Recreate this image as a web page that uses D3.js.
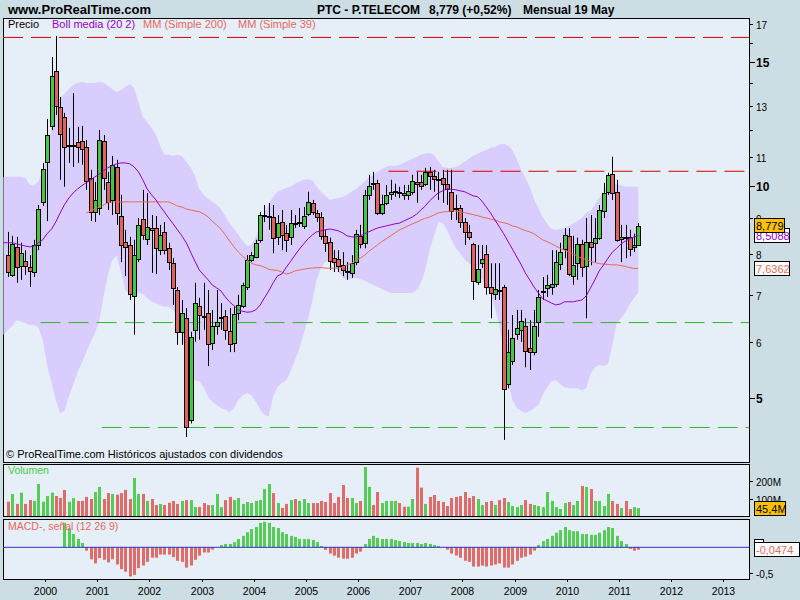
<!DOCTYPE html>
<html><head><meta charset="utf-8">
<script src="https://cdn.jsdelivr.net/npm/d3@7"></script>
<style>
body{margin:0;background:#cddde4;}
svg{display:block;font-family:"Liberation Sans",Arial,sans-serif;}
</style></head><body>
<svg id="c" width="800" height="600"></svg>
<script>
// ---------------- DATA ----------------
// Monthly candles Apr 1999 .. May 2011
const candleStart = [1999, 3];
const openV = [7.98,7.48,8.20,7.70,7.82,7.67,7.55,8.25,9.50,
10.83,12.18,14.57,12.96,12.54,11.39,11.41,11.56,11.59,11.37,10.28,9.19,
9.31,11.59,10.14,9.56,10.65,9.07,8.34,8.25,6.98,7.87,8.98,8.42,
8.72,8.72,8.11,8.61,8.16,7.77,7.12,6.21,6.49,4.65,6.25,6.76,
6.53,6.60,5.99,6.33,6.49,6.53,6.23,5.99,6.60,6.76,7.19,7.85,
7.95,8.39,9.07,9.06,9.04,8.45,8.89,8.58,8.45,8.86,8.86,8.78,
9.13,9.47,9.16,9.04,8.50,8.34,7.90,7.87,7.72,7.58,7.53,7.80,
8.50,8.31,9.72,10.11,10.11,9.16,9.47,9.75,9.82,9.82,9.78,9.72,
9.82,10.14,10.14,10.08,10.48,10.35,10.24,10.28,10.08,9.82,9.31,9.31,
8.89,8.61,8.28,7.31,7.77,8.00,7.19,7.03,7.12,7.19,5.23,5.64,
6.17,6.25,6.33,5.89,5.81,6.41,7.09,7.17,7.19,7.26,7.75,8.14,
8.50,7.45,7.77,8.28,7.72,8.34,8.31,8.45,9.22,9.82,10.41,9.82,
8.42,8.47,8.47,8.20,8.25];
const highV = [8.61,8.50,8.47,8.31,8.11,7.98,8.39,9.40,10.79,
12.46,15.26,16.34,13.39,12.71,12.10,13.56,12.14,12.18,11.63,10.55,10.14,
12.02,11.82,10.48,11.04,10.90,9.72,8.67,8.47,8.39,9.01,9.88,9.78,
9.10,9.07,8.81,8.89,8.31,7.90,7.19,6.89,6.71,6.21,7.29,6.94,
7.29,7.12,6.67,7.12,6.82,6.67,6.71,6.76,7.01,7.29,7.98,8.06,
8.39,9.19,9.40,9.46,9.40,9.10,9.25,8.81,9.25,9.10,9.31,9.34,
9.82,9.56,9.25,9.19,8.67,8.45,8.11,8.11,8.06,7.80,7.98,8.67,
8.81,9.88,10.38,10.48,10.21,9.72,10.04,10.21,10.08,9.98,10.04,10.04,
10.38,10.48,10.38,10.62,10.65,10.55,10.48,10.55,10.55,10.55,9.72,9.40,
9.01,8.81,8.31,8.25,8.25,8.25,7.77,7.77,7.77,7.24,6.25,6.56,
6.67,6.67,6.49,6.45,6.67,7.12,7.43,7.48,8.11,8.11,8.31,8.72,
8.72,8.50,8.45,8.39,9.01,9.10,9.01,9.40,10.11,10.45,11.01,10.21,
8.81,8.81,8.67,8.56,8.86];
const lowV = [7.43,7.43,7.29,7.36,7.48,7.19,7.43,8.11,9.37,
8.92,12.02,12.62,10.21,9.98,10.79,10.65,10.79,10.72,9.88,8.92,8.89,
9.10,9.88,9.25,9.10,8.81,7.80,7.45,6.89,6.15,7.80,8.39,8.25,
7.53,7.50,7.98,8.00,7.60,6.78,5.95,5.95,4.40,4.60,6.01,6.05,
6.25,5.55,5.85,6.15,6.25,6.05,5.81,5.81,6.45,6.71,7.12,7.80,
7.90,8.31,8.89,8.67,8.03,8.25,8.11,8.06,8.25,8.72,8.75,8.69,
9.07,9.10,8.89,8.39,8.06,7.60,7.55,7.55,7.45,7.36,7.41,7.72,
8.16,8.16,9.56,9.88,9.10,9.10,9.40,9.56,9.66,9.62,9.56,9.56,
9.72,9.47,9.88,10.01,9.88,9.82,9.56,9.47,9.40,8.95,8.95,8.72,
8.25,8.39,6.89,7.24,7.65,7.01,6.49,6.89,6.89,4.36,5.16,5.57,
6.05,6.01,5.53,5.48,5.75,6.11,6.89,6.96,7.01,7.19,7.60,7.90,
7.45,7.24,7.36,7.43,6.49,7.72,7.80,8.39,9.01,9.72,9.56,8.34,
7.80,7.90,7.95,8.06,8.22];
const closeV = [7.55,8.28,7.67,8.03,7.70,7.58,8.25,9.28,10.58,
11.83,14.34,13.00,11.87,11.37,11.43,11.45,11.37,11.30,10.18,9.19,9.56,
11.63,10.28,9.50,10.72,9.16,8.25,8.20,7.03,7.98,8.81,8.53,8.75,
8.67,8.16,8.53,8.11,7.80,7.17,6.21,6.60,4.54,6.11,6.82,6.56,
6.51,5.97,6.33,6.41,6.51,6.23,5.97,6.58,6.78,7.24,7.85,7.98,
8.31,9.10,9.10,9.08,8.45,8.86,8.53,8.39,8.86,8.83,8.89,9.07,
9.50,9.19,9.04,8.50,8.31,7.85,7.80,7.70,7.60,7.55,7.77,8.56,
8.28,9.72,10.01,10.08,9.16,9.44,9.72,9.82,9.85,9.78,9.72,9.85,
10.18,10.08,10.01,10.48,10.35,10.24,10.21,10.08,9.91,9.22,9.28,8.89,
8.61,8.47,7.34,7.63,7.87,7.19,7.05,7.14,7.10,5.15,5.81,6.09,
6.29,6.43,5.83,5.81,6.33,6.96,7.10,7.24,7.26,7.80,8.06,8.53,
7.50,7.72,8.28,7.67,8.34,8.20,8.45,9.25,9.78,10.38,9.78,8.39,
8.47,8.45,8.14,8.25,8.779];
// Volume (millions), Apr 1999 .. May 2011
const volumeM = [82,126,69,133,69,91,86,183,82,
114,133,114,103,149,82,103,86,86,109,97,137,
166,97,131,126,122,131,149,97,217,126,126,86,
97,63,69,63,76,86,69,86,91,91,51,51,
74,63,63,126,51,91,109,91,103,69,80,74,
86,91,154,183,131,74,46,69,91,97,86,97,
74,74,74,86,80,131,74,109,177,103,103,74,
86,280,166,63,137,74,86,86,86,74,53,53,
97,276,162,69,109,120,86,80,57,103,109,114,
137,103,114,97,63,80,86,63,91,103,80,57,
51,63,91,69,63,57,51,137,86,51,40,74,
80,63,86,171,166,154,86,86,57,126,86,69,
46,86,40,51,45.4];
// MACD histogram, May 2000 .. May 2011
const macdStart = [2000, 4];
const macdHist = [0.47,0.365,0.256,0.16,0.083,-0.064,-0.23,-0.31,
-0.21,-0.24,-0.29,-0.23,-0.33,-0.42,-0.47,-0.56,-0.53,-0.40,-0.35,-0.28,
-0.20,-0.20,-0.14,-0.14,-0.14,-0.19,-0.26,-0.28,-0.39,-0.35,-0.24,-0.16,
-0.10,-0.10,-0.045,0.0,0.045,0.064,0.064,0.10,0.16,0.22,0.29,0.35,
0.39,0.47,0.49,0.47,0.39,0.37,0.29,0.256,0.22,0.20,0.16,0.16,
0.16,0.14,0.10,0.026,-0.05,-0.12,-0.16,-0.20,-0.22,-0.22,-0.20,-0.12,
-0.083,0.064,0.16,0.22,0.18,0.16,0.16,0.16,0.14,0.12,
0.10,0.083,0.083,0.083,0.064,0.083,0.064,0.045,0.026,0.0,-0.045,-0.12,
-0.16,-0.20,-0.26,-0.28,-0.37,-0.37,-0.35,-0.37,-0.35,-0.33,-0.31,-0.39,
-0.39,-0.33,-0.26,-0.20,-0.18,-0.14,-0.064,0.045,0.12,0.16,0.22,0.28,
0.33,0.39,0.33,0.31,0.31,0.256,0.256,0.24,0.24,0.28,0.33,0.39,
0.37,0.22,0.12,0.064,-0.03,-0.064,-0.047];
// Bollinger (20,2), Mar 1999 .. May 2011
const bandStart = [1999, 2];
const bollUpper = [10.31,10.31,10.31,10.31,10.31,10.28,10.05,10.02,10.15,10.55,
11.26,12.10,12.91,13.35,13.52,13.74,13.92,14.01,14.06,14.01,14.01,14.01,
14.06,14.01,13.88,13.74,13.61,13.70,13.83,13.97,13.79,13.17,12.54,12.34,
12.10,11.83,11.41,11.08,11.08,11.04,11.08,11.04,10.83,10.62,10.35,9.91,
9.72,9.59,9.50,9.41,9.28,9.07,8.86,8.69,8.53,8.36,8.22,8.25,
8.47,8.78,9.16,9.44,9.66,9.82,9.88,9.95,9.98,10.08,10.15,10.21,
10.24,10.18,9.98,9.82,9.69,9.56,9.59,9.62,9.66,9.72,9.82,9.91,
10.02,10.15,10.28,10.38,10.48,10.58,10.65,10.69,10.69,10.72,10.79,10.87,
10.94,11.01,11.08,11.12,11.15,11.08,10.87,10.65,10.62,10.62,10.65,10.72,
10.83,10.94,11.04,11.12,11.19,11.26,11.34,11.37,11.45,11.49,11.41,11.26,
10.90,10.55,10.28,9.98,9.59,9.31,9.04,8.84,8.69,8.67,8.69,8.72,
8.78,8.86,8.92,9.01,9.16,9.22,9.41,9.62,9.85,10.08,10.11,10.05,
10.02,9.98,9.98,9.98,9.98];
const bollLower = [6.15,6.25,6.33,6.45,6.43,6.39,6.35,6.35,6.29,6.05,
5.57,5.25,4.97,4.76,4.79,5.02,5.22,5.44,5.62,5.81,6.01,6.19,
6.45,7.01,7.48,7.85,7.98,7.55,7.12,7.03,7.03,7.05,7.03,6.94,
6.85,6.82,6.78,6.74,6.74,6.67,6.49,6.15,5.76,5.48,5.30,5.28,
5.18,5.02,4.94,4.89,4.84,4.81,4.78,4.84,4.97,5.05,5.08,5.05,
4.94,4.81,4.73,4.71,5.03,5.18,5.25,5.30,5.46,5.66,5.89,6.17,
6.49,6.89,7.36,7.65,7.80,7.85,7.73,7.55,7.41,7.36,7.38,7.41,
7.38,7.34,7.29,7.24,7.19,7.14,7.10,7.05,7.05,7.05,7.05,7.05,
7.05,7.12,7.29,7.60,8.11,8.50,8.89,8.86,8.67,8.39,8.16,8.03,
7.87,7.77,7.67,7.53,7.38,7.21,7.01,6.71,6.33,5.85,5.27,4.97,
4.84,4.79,4.76,4.79,4.83,4.89,5.05,5.18,5.28,5.30,5.23,5.18,
5.16,5.16,5.16,5.13,5.16,5.41,5.53,5.57,5.55,5.59,5.95,6.39,
6.49,6.63,6.78,6.94,7.05];
const bollMid = [8.31,8.31,8.31,8.28,8.25,8.22,8.20,8.22,8.31,8.39,
8.56,8.69,8.89,9.16,9.41,9.62,9.78,9.91,10.02,10.11,10.21,10.31,
10.41,10.52,10.62,10.69,10.76,10.79,10.79,10.76,10.65,10.48,10.21,9.91,
9.72,9.56,9.37,9.19,9.01,8.84,8.67,8.50,8.31,8.06,7.82,7.60,
7.48,7.36,7.24,7.17,7.10,6.96,6.85,6.76,6.67,6.64,6.62,6.63,
6.67,6.78,6.94,7.10,7.29,7.46,7.50,7.67,7.82,7.98,8.14,8.28,
8.42,8.53,8.61,8.64,8.67,8.69,8.67,8.64,8.58,8.50,8.47,8.47,
8.50,8.56,8.61,8.67,8.72,8.75,8.78,8.81,8.84,8.86,8.92,8.98,
9.04,9.13,9.25,9.37,9.53,9.66,9.78,9.85,9.91,9.90,9.88,9.85,
9.82,9.75,9.69,9.66,9.53,9.34,9.16,8.95,8.75,8.56,8.34,8.14,
7.93,7.73,7.53,7.36,7.19,7.05,6.92,6.87,6.82,6.78,6.80,6.85,
6.85,6.85,6.87,6.89,6.98,7.17,7.36,7.58,7.73,7.90,8.06,8.16,
8.28,8.36,8.42,8.47,8.5088];
// MM (Simple 39), Oct 2000 .. May 2011
const maStart = [2000, 9];
const ma39 = [9.16,9.22,9.28,9.34,9.41,9.47,9.50,
9.50,9.50,9.50,9.50,9.50,9.50,9.50,9.50,9.50,9.50,9.50,9.50,9.50,
9.44,9.37,9.34,9.28,9.25,9.22,
9.20,9.13,9.04,8.92,8.81,8.69,8.53,8.36,8.20,8.06,7.95,7.85,7.77,7.73,7.71,7.67,
7.62,7.60,7.59,7.55,7.50,7.53,7.58,7.60,7.62,7.64,7.65,7.66,7.66,7.65,7.64,
7.65,7.65,7.67,7.73,7.77,7.85,7.90,7.98,8.08,8.16,8.25,8.34,8.42,8.50,8.58,8.67,
8.72,8.78,8.84,8.89,8.95,9.00,9.04,9.10,9.16,9.19,9.20,9.22,9.22,9.20,9.17,
9.14,9.11,9.08,9.04,9.01,8.98,8.95,8.90,8.87,8.84,8.78,8.75,8.69,8.65,8.61,
8.56,8.47,8.39,8.34,8.28,8.22,8.16,8.11,8.06,8.01,7.95,7.90,7.86,7.82,7.79,
7.76,7.75,7.74,7.73,7.73,7.71,7.69,7.66,7.64,7.6362];
// horizontal support/resistance levels
const redLevels = [{v:16.27, from:[1999,0]}, {v:10.50, from:[2006,7]}];
const greenLevels = [{v:6.40, from:[1999,11]}, {v:4.54, from:[2001,1]}];
// axis ticks
const priceTicks = [17,16,15,14,13,12,11,10,9,8,7,6,5];
const priceLabels = {17:"17",15:"15",13:"13",11:"11",10:"10",9:"9",8:"8",7:"7",6:"6",5:"5"};
const boldTicks = [15,10,5];
const yearTicks = [2000,2001,2002,2003,2004,2005,2006,2007,2008,2009,2010,2011,2012,2013];
const volTicks = [{v:200,t:"200M"},{v:100,t:"100M"}];
const macdTicks = [{v:-0.5,t:"-0,5"}];

// ---------------- CHART ----------------
const svg = d3.select("#c");
const C = {panel:"#e6eef8", band:"#d8cdfd", up:"#44c744", down:"#e0625c",
  vup:"#55cc55", vdown:"#e06b68", purple:"#9300c9", salmon:"#e46a5e"};
const PX0 = 3, PX1 = 749;
const MAIN = [18, 462], VOLP = [464, 516], MACDP = [519, 579];

const x = d3.scaleTime().domain([new Date(2000,0,1), new Date(2013,0,1)]).range([45, 723.4]);
const xm = d => x(d3.timeDay.offset(d, 15));
const y = d3.scaleLog().domain([5, 17]).range([398, 24]);
const yv = d3.scaleLinear().domain([0, 200]).range([516, 481]);
const ym = d3.scaleLinear().domain([0, -0.5]).range([547.3, 573.3]);

const monthsFrom = (s, n) => d3.range(n).map(i => new Date(s[0], s[1] + i, 1));
const cMonths = monthsFrom(candleStart, openV.length);
const candles = cMonths.map((d, i) => ({d, o:openV[i], h:highV[i], l:lowV[i], c:closeV[i], v:volumeM[i]}));
const bMonths = monthsFrom(bandStart, bollUpper.length);
const band = bMonths.map((d, i) => ({d, u:bollUpper[i], lo:bollLower[i], m:bollMid[i]}));
const maData = monthsFrom(maStart, ma39.length).map((d, i) => ({d, v:ma39[i]}));
const macdData = monthsFrom(macdStart, macdHist.length).map((d, i) => ({d, v:macdHist[i]}));

const defs = svg.append("defs");
defs.append("clipPath").attr("id","clipMain").append("rect")
  .attr("x",PX0).attr("y",MAIN[0]).attr("width",PX1-PX0).attr("height",MAIN[1]-MAIN[0]);

function panel(r){
  svg.append("rect").attr("x",PX0+0.5).attr("y",r[0]+0.5).attr("width",PX1-PX0)
    .attr("height",r[1]-r[0]).attr("fill",C.panel).attr("stroke","#000");
}
panel(MAIN); panel(VOLP); panel(MACDP);

// header
svg.append("text").attr("x",8).attr("y",14).attr("font-size",13).attr("font-weight","bold").text("www.ProRealTime.com");
svg.append("text").attr("x",317).attr("y",14).attr("font-size",12).attr("font-weight","bold").text("PTC - P.TELECOM");
svg.append("text").attr("x",429).attr("y",14).attr("font-size",12).attr("font-weight","bold").text("8,779 (+0,52%)");
svg.append("text").attr("x",523).attr("y",14).attr("font-size",12).attr("font-weight","bold").text("Mensual  19 May");

const gMain = svg.append("g").attr("clip-path","url(#clipMain)");
// Bollinger band
gMain.append("path").datum(band)
  .attr("d", d3.area().x(d=>xm(d.d)).y0(d=>y(d.lo)).y1(d=>y(d.u)))
  .attr("fill", C.band);
// levels
redLevels.forEach(L => gMain.append("line").attr("x1", Math.max(PX0, x(new Date(L.from[0],L.from[1],1)))).attr("x2",PX1)
  .attr("y1", y(L.v)).attr("y2", y(L.v)).attr("stroke","#d40000").attr("stroke-dasharray","20,8"));
greenLevels.forEach(L => gMain.append("line").attr("x1", Math.max(PX0, x(new Date(L.from[0],L.from[1],1)))).attr("x2",PX1)
  .attr("y1", y(L.v)).attr("y2", y(L.v)).attr("stroke","#2eb82e").attr("stroke-dasharray","20,8"));

// candles
const gc = gMain.append("g").selectAll("g").data(candles).join("g");
gc.append("line").attr("x1",d=>Math.round(xm(d.d))+0.5).attr("x2",d=>Math.round(xm(d.d))+0.5)
  .attr("y1",d=>y(d.h)).attr("y2",d=>y(d.l)).attr("stroke","#000");
gc.append("rect").attr("x",d=>Math.round(xm(d.d))-1.5).attr("width",4)
  .attr("y",d=>Math.round(y(Math.max(d.o,d.c)))+0.5)
  .attr("height",d=>Math.max(1, Math.round(Math.abs(y(d.o)-y(d.c)))))
  .attr("fill",d=>d.c>=d.o?C.up:C.down).attr("stroke","#000");

// lines
gMain.append("path").datum(maData).attr("d", d3.line().x(d=>xm(d.d)).y(d=>y(d.v)))
  .attr("fill","none").attr("stroke",C.salmon).attr("stroke-width",1);
gMain.append("path").datum(band).attr("d", d3.line().x(d=>xm(d.d)).y(d=>y(d.m)))
  .attr("fill","none").attr("stroke",C.purple).attr("stroke-width",1);

// legend
svg.append("text").attr("x",8).attr("y",28).attr("font-size",11).attr("fill","#000").text("Precio");
svg.append("text").attr("x",52).attr("y",28).attr("font-size",11).attr("fill",C.purple).text("Boll media (20 2)");
svg.append("text").attr("x",143).attr("y",28).attr("font-size",11).attr("fill",C.salmon).text("MM (Simple 200)");
svg.append("text").attr("x",238).attr("y",28).attr("font-size",11).attr("fill",C.salmon).text("MM (Simple 39)");
svg.append("text").attr("x",6).attr("y",458).attr("font-size",11).attr("fill","#000").text("\u00A9 ProRealTime.com  Hist\u00F3ricos ajustados con dividendos");

// price axis
priceTicks.forEach(t => {
  const yy = Math.round(y(t)) + 0.5;
  const bold = boldTicks.includes(t);
  const len = priceLabels[t] ? (bold ? 6 : 4) : 4;
  svg.append("line").attr("x1",PX1).attr("x2",PX1+len).attr("y1",yy).attr("y2",yy).attr("stroke","#000");
  if (priceLabels[t]) svg.append("text").attr("x",PX1+7).attr("y",yy+4)
    .attr("font-size", bold?12:10).attr("font-weight", bold?"bold":"normal").text(priceLabels[t]);
});

// volume
svg.append("g").selectAll("rect").data(candles).join("rect")
  .attr("x",d=>Math.round(xm(d.d))-1).attr("width",3)
  .attr("y",d=>yv(d.v)).attr("height",d=>yv(0)-yv(d.v))
  .attr("fill",d=>d.c>=d.o?C.vup:C.vdown);
svg.append("text").attr("x",8).attr("y",474).attr("font-size",10.5).attr("fill","#44cc44").text("Volumen");
volTicks.forEach(t => {
  const yy = Math.round(yv(t.v))+0.5;
  svg.append("line").attr("x1",PX1).attr("x2",PX1+4).attr("y1",yy).attr("y2",yy).attr("stroke","#000");
  svg.append("text").attr("x",PX1+7).attr("y",yy+4).attr("font-size",10).text(t.t);
});

// MACD
svg.append("g").selectAll("rect").data(macdData).join("rect")
  .attr("x",d=>Math.round(xm(d.d))-1).attr("width",3)
  .attr("y",d=>Math.min(ym(d.v), ym(0))).attr("height",d=>Math.abs(ym(d.v)-ym(0)))
  .attr("fill",d=>d.v>=0?C.vup:C.vdown);
svg.append("line").attr("x1",PX0).attr("x2",PX1).attr("y1",ym(0)).attr("y2",ym(0)).attr("stroke","#3030c0");
svg.append("text").attr("x",8).attr("y",530).attr("font-size",10.5).attr("fill",C.salmon).text("MACD-, se\u00F1al (12 26 9)");
macdTicks.forEach(t => {
  const yy = Math.round(ym(t.v))+0.5;
  svg.append("line").attr("x1",PX1).attr("x2",PX1+4).attr("y1",yy).attr("y2",yy).attr("stroke","#000");
  svg.append("text").attr("x",PX1+7).attr("y",yy+4).attr("font-size",10).text(t.t);
});

// x axis
yearTicks.forEach(yr => {
  const xx = Math.round(x(new Date(yr,0,1)))+0.5;
  svg.append("line").attr("x1",xx).attr("x2",xx).attr("y1",MACDP[1]).attr("y2",MACDP[1]+3).attr("stroke","#000");
  svg.append("text").attr("x",xx).attr("y",595).attr("text-anchor","middle").attr("font-size",10.5).text(yr);
});

// value boxes
function box(yc, w, txt, fill, color){
  svg.append("rect").attr("x",754.5).attr("y",Math.round(yc-7.5)+0.5).attr("width",w).attr("height",14)
    .attr("fill",fill).attr("stroke","#000");
  svg.append("text").attr("x",756).attr("y",Math.round(yc-7.5)+12).attr("font-size",11).attr("fill",color).text(txt);
}
const lastBand = band[band.length-1], lastMa = maData[maData.length-1], lastC = candles[candles.length-1];
const lastMacd = macdData[macdData.length-1];
box(y(lastBand.m), 35, "8,5088", "#fff", C.purple);
box(y(lastMa.v), 35, "7,6362", "#fff", C.salmon);
box(y(lastC.c), 30, "8,779", "#ffc000", "#000");
box(yv(lastC.v), 31, "45,4M", "#ffc000", "#000");
svg.append("rect").attr("x",754.5).attr("y",539.5).attr("width",9).attr("height",4).attr("fill","#fff").attr("stroke","#000");
box(ym(lastMacd.v), 45, "-0,0474", "#fff", C.salmon);
</script>
</body></html>
